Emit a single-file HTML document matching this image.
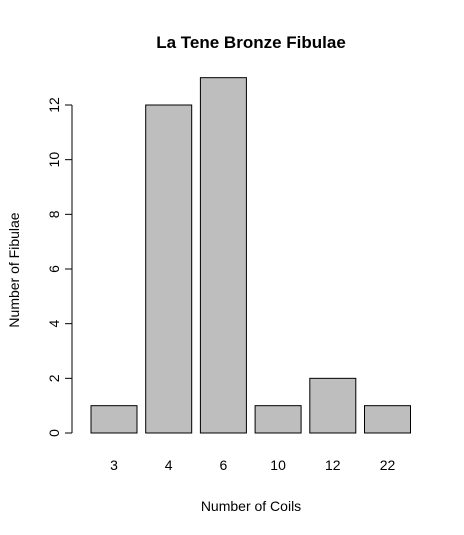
<!DOCTYPE html>
<html><head><meta charset="utf-8"><style>
body{margin:0;background:#fff}
svg{display:block;font-family:"Liberation Sans",Arial,sans-serif}
</style></head><body>
<svg id="chart" width="464" height="535" viewBox="0 0 464 535">
<rect width="464" height="535" fill="#fff"/>
<text x="251" y="48" text-anchor="middle" font-size="17" font-weight="bold">La Tene Bronze Fibulae</text>
<text x="251" y="511" text-anchor="middle" font-size="14">Number of Coils</text>
<text transform="translate(19,270) rotate(-90)" text-anchor="middle" font-size="14">Number of Fibulae</text>
<g id="bars"></g><g id="yaxis"></g><g id="xlabels"></g>
</svg>
<script>
const categories=["3","4","6","10","12","22"];
const counts=[1,12,13,1,2,1];
const yTicks=[0,2,4,6,8,10,12];
const NS="http://www.w3.org/2000/svg";
const y0=433,unit=(433-105)/12;
function yScale(v){return y0-v*unit;}
function xLeft(i){return 91+i*54.7;}
const bw=46;
const bars=document.getElementById('bars');
counts.forEach((v,i)=>{
 const r=document.createElementNS(NS,'rect');
 r.setAttribute('x',xLeft(i));r.setAttribute('y',yScale(v));
 r.setAttribute('width',bw);r.setAttribute('height',y0-yScale(v));
 r.setAttribute('fill','#bebebe');r.setAttribute('stroke','#000');
 
 
 bars.appendChild(r);
 const t=document.createElementNS(NS,'text');
 t.setAttribute('x',xLeft(i)+bw/2);t.setAttribute('y',470);
 t.setAttribute('text-anchor','middle');t.setAttribute('font-size','14');
 t.textContent=categories[i];
 
 
 document.getElementById('xlabels').appendChild(t);
});
const ya=document.getElementById('yaxis');
const ax=document.createElementNS(NS,'line');
ax.setAttribute('x1',72);ax.setAttribute('x2',72);
ax.setAttribute('y1',yScale(yTicks[0]));ax.setAttribute('y2',yScale(yTicks[yTicks.length-1]));
ax.setAttribute('stroke','#000');


ya.appendChild(ax);
yTicks.forEach(v=>{
 const l=document.createElementNS(NS,'line');
 l.setAttribute('x1',65);l.setAttribute('x2',72);
 l.setAttribute('y1',yScale(v));l.setAttribute('y2',yScale(v));
 l.setAttribute('stroke','#000');
 
 
 ya.appendChild(l);
 const t=document.createElementNS(NS,'text');
 t.setAttribute('transform','translate(59,'+yScale(v)+') rotate(-90)');
 t.setAttribute('text-anchor','middle');t.setAttribute('font-size','14');
 t.textContent=v;
 
 
 ya.appendChild(t);
});
</script>
</body></html>
